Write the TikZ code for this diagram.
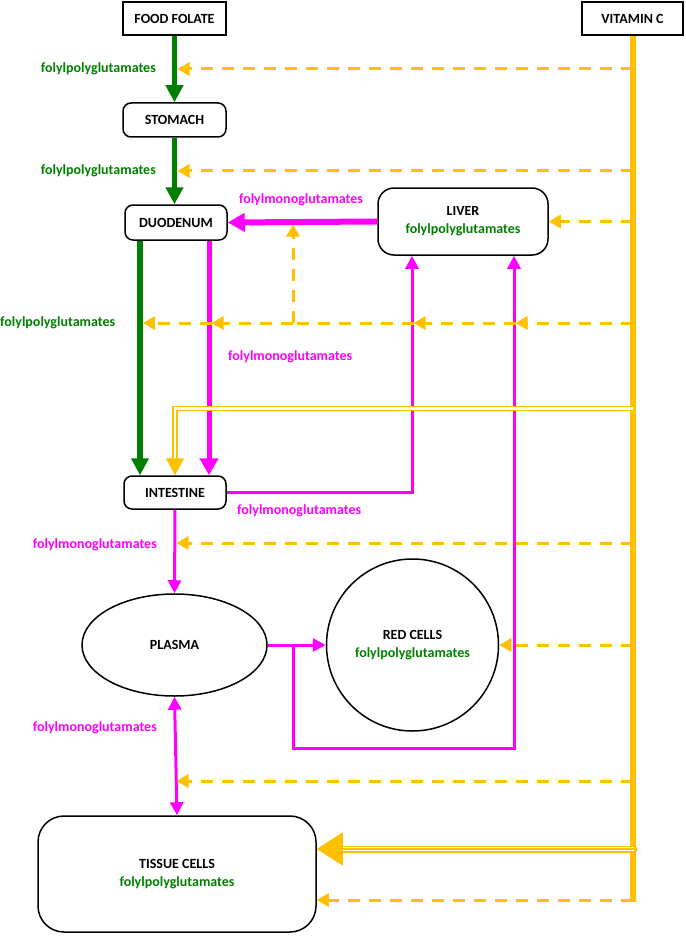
\documentclass[tikz,border=0pt]{standalone}
\usepackage{fontspec}
\setmainfont{Carlito}
\usetikzlibrary{arrows.meta,shapes.geometric,calc}
\definecolor{vorange}{HTML}{FFC000}
\definecolor{fgreen}{HTML}{008000}
\definecolor{fmag}{HTML}{FF00FF}
\begin{document}
\begin{tikzpicture}[x=1pt,y=-1pt,
  txt/.style={font=\bfseries\fontsize{14}{18}\selectfont},
  box/.style={draw=black, line width=1.5pt, txt, align=center, inner sep=0pt},
  sqbox/.style={box, rectangle},
  rbox/.style={box, rectangle, rounded corners=8pt},
  glab/.style={txt, text=fgreen, inner sep=0pt},
  mlab/.style={txt, text=fmag, inner sep=0pt},
  garrow/.style={draw=fgreen, line width=5.5pt, -{Triangle[length=17pt,width=17pt]}},
  mthick/.style={draw=fmag, line width=5pt, -{Triangle[length=17pt,width=18pt]}},
  mthin/.style={draw=fmag, line width=3pt, -{Triangle[length=13pt,width=13pt]}},
  vdash/.style={draw=vorange, line width=3pt, dash pattern=on 12pt off 9pt, -{Triangle[length=12pt,width=13pt]}},
  vline/.style={draw=vorange, line width=6pt},
]
\useasboundingbox (0,0) rectangle (685,936);

% nodes
\node[sqbox, minimum width=103pt, minimum height=33pt] (food) at (174.5,18.5) {FOOD FOLATE};
\node[sqbox, minimum width=101pt, minimum height=33pt] (vit) at (632.5,18.5) {VITAMIN C};
\node[rbox, minimum width=103pt, minimum height=34pt] (stom) at (174.5,120) {STOMACH};
\node[rbox, minimum width=102pt, minimum height=35pt] (duo) at (176,222.5) {DUODENUM};
\node[box, rectangle, rounded corners=16pt, minimum width=170pt, minimum height=67pt] (liver) at (463,221.5) {LIVER\\\textcolor{fgreen}{folylpolyglutamates}};
\node[rbox, minimum width=102pt, minimum height=33pt] (int) at (175,492.5) {INTESTINE};
\node[box, ellipse, minimum width=185pt, minimum height=102pt] (plasma) at (174.5,645) {PLASMA};
\node[box, circle, minimum size=172pt] (red) at (412.5,645) {RED CELLS\\\textcolor{fgreen}{folylpolyglutamates}};
\node[box, rectangle, rounded corners=26pt, minimum width=278pt, minimum height=116pt] (tissue) at (177,874) {TISSUE CELLS\\\textcolor{fgreen}{folylpolyglutamates}};

% vitamin C trunk
\coordinate (vbot) at (632.5,902);
\draw[vline] (vit.south) -- (vbot);

% green flow
\draw[garrow] (food.south) -- (stom.north);
\draw[garrow] (stom.south) -- (stom.south |- duo.north);
\draw[garrow] ($(duo.south)+(-36,0)$) -- ($(int.north)+(-35,0)$);

% magenta flow
\draw[mthick, line width=6pt] (liver.west) -- (duo.east);
\draw[mthick] ($(duo.south)+(33,0)$) -- ($(int.north)+(34,0)$);
\draw[mthin] (int.east) -| ($(liver.south)+(-51,0)$);
\draw[mthin] (int.south) -- (plasma.north);
\draw[mthin] (plasma.east) -- (red.west);
\coordinate (pb) at (293,645);
\draw[mthin] (pb) -- (293,748) -| ($(liver.south)+(51,0)$);
\draw[mthin, {Triangle[length=13pt,width=13pt]}-{Triangle[length=13pt,width=13pt]}] (plasma.south) -- (tissue.north);

% dashed vitamin C arrows
\coordinate (v1) at (632.5,69);
\coordinate (v2) at (632.5,171);
\coordinate (v3) at (632.5,221.5);
\coordinate (v4) at (632.5,323);
\coordinate (v5) at (632.5,543);
\coordinate (v6) at (632.5,645);
\coordinate (v7) at (632.5,781);
\coordinate (v8) at (632.5,900);
\draw[vdash] (v1) -- (177.5,69);
\draw[vdash] (v2) -- (177.5,171);
\draw[vdash] (v3) -- (liver.east);
\coordinate (d1) at (515.5,323);
\coordinate (d2) at (413.5,323);
\coordinate (dj) at (293,323);
\coordinate (d3) at (211.5,323);
\coordinate (d4) at (143,323);
\draw[vdash] (v4) -- (d1);
\draw[vdash] (d1) -- (d2);
\draw[vdash, -] (d2) -- (dj);
\draw[vdash] (dj) -- (d3);
\draw[vdash] (d3) -- (d4);
\draw[vdash] (dj) -- (293,224.5);
\draw[vdash] (v5) -- (176.5,543);
\draw[vdash] (v6) -- (red.east);
\draw[vdash] (v7) -- (176.5,781);
\draw[vdash] (v8) -- (tissue.east |- v8);

% double line to intestine
\coordinate (w1) at (632.5,408.5);
\draw[draw=vorange, line width=1.5pt, double=white, double distance=2.5pt] (w1) -- (175,408.5) -- (175,462);
\draw[draw=vorange, line width=1pt, -{Triangle[length=17pt,width=18pt]}] (175,459) -- (int.north);

% triple line to tissue cells
\coordinate (w2) at (634,849);
\coordinate (t2) at ($(tissue.east)+(24,-25)$);
\draw[vorange, line width=7pt, line cap=round] (w2) -- (t2);
\draw[white, line width=4.4pt] (w2) -- (t2);
\draw[vorange, line width=1.4pt] (w2) -- (t2);
\draw[vorange, line width=1pt, -{Triangle[length=26pt,width=33pt]}] ($(t2)+(4,0)$) -- (tissue.east |- w2);

% labels
\node[glab, anchor=east] at (156,69) {folylpolyglutamates};
\node[glab, anchor=east] at (156,171) {folylpolyglutamates};
\node[glab, anchor=west] at (0,323) {folylpolyglutamates};
\node[mlab] at (301,200) {folylmonoglutamates};
\node[mlab, anchor=west] at (228,357) {folylmonoglutamates};
\node[mlab, anchor=west] at (237,511) {folylmonoglutamates};
\node[mlab, anchor=east] at (157,545) {folylmonoglutamates};
\node[mlab, anchor=east] at (157,728) {folylmonoglutamates};
\end{tikzpicture}
\end{document}
